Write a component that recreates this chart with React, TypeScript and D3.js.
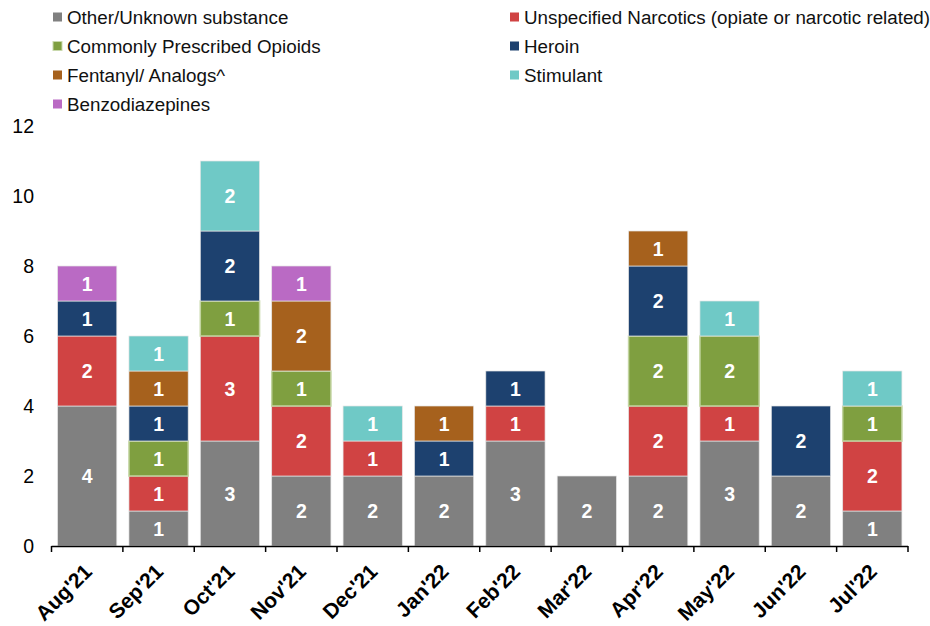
import React from "react";
import * as d3 from "d3";

const months = ["Aug'21","Sep'21","Oct'21","Nov'21","Dec'21","Jan'22","Feb'22","Mar'22","Apr'22","May'22","Jun'22","Jul'22"];
const seriesNames = ["Other/Unknown substance","Unspecified Narcotics (opiate or narcotic related)","Commonly Prescribed Opioids","Heroin","Fentanyl/ Analogs^","Stimulant","Benzodiazepines"];
const colors = ["#808080","#D04343","#7F9F40","#1D416F","#A6611D","#6FC9C6","#BA6AC4"];
const other = [4,1,3,2,2,2,3,2,2,3,2,1];
const unspecified = [2,1,3,2,1,0,1,0,2,1,0,2];
const prescribed = [0,1,1,1,0,0,0,0,2,2,0,1];
const heroin = [1,1,2,0,0,1,1,0,2,0,2,0];
const fentanyl = [0,1,0,2,0,1,0,0,1,0,0,0];
const stimulant = [0,1,2,0,1,0,0,0,0,1,0,1];
const benzo = [1,0,0,1,0,0,0,0,0,0,0,0];
const yTicks = [0,2,4,6,8,10,12];

const seriesValues = [other, unspecified, prescribed, heroin, fentanyl, stimulant, benzo];

export default function App() {
  const W = 930, H = 626;
  const x0 = 51.5, x1 = 908;
  const x = d3.scaleBand().domain(months).range([x0, x1]).paddingInner(0.17).paddingOuter(0.085);
  const y = d3.scaleLinear().domain([0, 12]).range([546, 126]);
  const rows = months.map((m, i) => {
    const r: any = { month: m };
    seriesNames.forEach((s, j) => (r[s] = seriesValues[j][i]));
    return r;
  });
  const stacked = d3.stack().keys(seriesNames)(rows);
  const step = (x1 - x0) / months.length;
  const font = "Liberation Sans, Arial, sans-serif";
  const legendPos = [
    [53, 17], [510, 17], [53, 46], [510, 46], [53, 75], [510, 75], [53, 104]
  ];
  return (
    <svg width={W} height={H} style={{ position: "absolute", left: 0, top: 0 }} fontFamily={font}>
      {seriesNames.map((s, j) => (
        <g key={s} transform={`translate(${legendPos[j][0]},${legendPos[j][1]})`}>
          <rect x={0} y={-4.5} width={9} height={9} fill={colors[j]} stroke={j === 2 ? "#c9d9ad" : "none"} strokeWidth={1} />
          <text x={14} y={0} dy="0.35em" fontSize={18.8} fill="#111">{s}</text>
        </g>
      ))}
      {yTicks.map(t => (
        <text key={t} x={34} y={y(t)} dy="0.35em" textAnchor="end" fontSize={19.5} fill="#000">{t}</text>
      ))}
      {stacked.map((layer, j) => (
        <g key={layer.key}>
          {layer.map((d, i) => {
            const v = d[1] - d[0];
            if (v <= 0) return null;
            const bx = x(months[i])!;
            const top = y(d[1]);
            const h = y(d[0]) - y(d[1]);
            return (
              <g key={i}>
                <rect x={bx} y={top} width={x.bandwidth()} height={h} fill={colors[j]}
                  stroke={j === 2 ? "#c2d4a0" : "#e6e6e6"} strokeWidth={j === 2 ? 1.5 : 0.7} />
                <text x={bx + x.bandwidth() / 2} y={top + h / 2} dy="0.36em" textAnchor="middle"
                  fontSize={19.5} fontWeight="bold" fill="#fff">{v}</text>
              </g>
            );
          })}
        </g>
      ))}
      <line x1={x0} x2={x1} y1={546.5} y2={546.5} stroke="#000" strokeWidth={1.5} />
      {d3.range(months.length + 1).map(i => (
        <line key={i} x1={x0 + i * step} x2={x0 + i * step} y1={546} y2={552} stroke="#000" strokeWidth={1.5} />
      ))}
      {months.map(m => {
        const cx = x(m)! + x.bandwidth() / 2 + 6;
        return (
          <text key={m} transform={`translate(${cx},${573}) rotate(-45)`} textAnchor="end"
            fontSize={21} fontWeight="bold" fill="#000">{m}</text>
        );
      })}
    </svg>
  );
}
